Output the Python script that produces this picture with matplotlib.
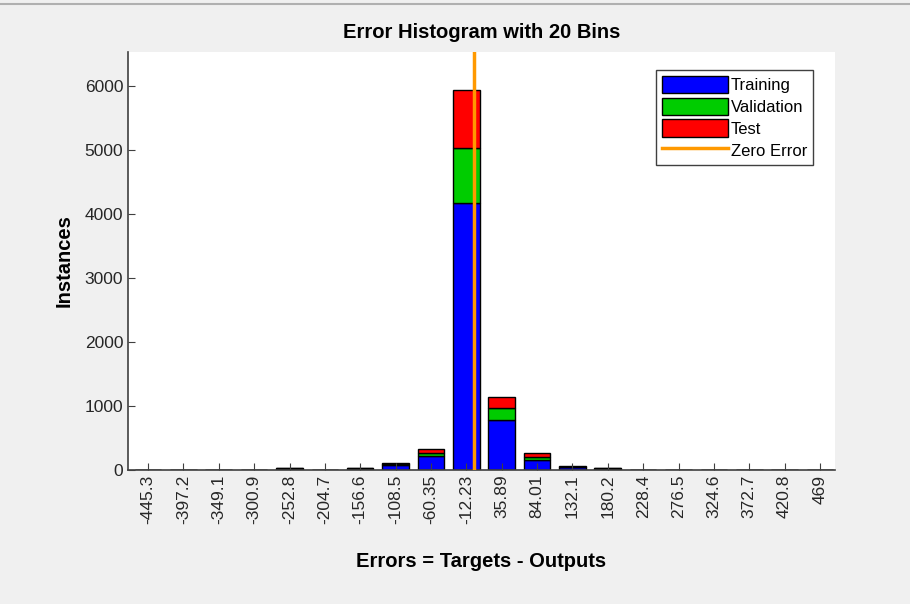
import matplotlib
matplotlib.use("Agg")
import matplotlib.pyplot as plt
import numpy as np

plt.rcParams['font.family'] = ['Liberation Sans', 'DejaVu Sans']

tick_labels = ["-445.3", "-397.2", "-349.1", "-300.9", "-252.8", "-204.7", "-156.6",
               "-108.5", "-60.35", "-12.23", "35.89", "84.01", "132.1", "180.2",
               "228.4", "276.5", "324.6", "372.7", "420.8", "469"]
bin_centers = [float(t) for t in tick_labels]
training   = [0, 0, 0, 0, 20, 0, 20, 80, 220, 4165, 781, 158, 45, 20, 0, 0, 0, 0, 0, 0]
validation = [0, 0, 0, 0, 4, 0, 4, 12, 50, 862, 183, 42, 8, 5, 0, 0, 0, 0, 0, 0]
test       = [0, 0, 0, 0, 3, 0, 3, 13, 53, 910, 181, 58, 9, 5, 0, 0, 0, 0, 0, 0]

fig = plt.figure(figsize=(9.10, 6.04), dpi=100, facecolor='#f0f0f0')
ax = fig.add_axes([0.1407, 0.2219, 0.9176 - 0.1407, 0.9139 - 0.2219])
ax.set_facecolor('white')

x = np.array(bin_centers)
tr = np.array(training); va = np.array(validation); te = np.array(test)
bw = 48.12 * 0.75
h1 = ax.bar(x, tr, width=bw, color='#0000ff', edgecolor='black', linewidth=1, label='Training')
h2 = ax.bar(x, va, width=bw, bottom=tr, color='#00cc00', edgecolor='black', linewidth=1, label='Validation')
h3 = ax.bar(x, te, width=bw, bottom=tr + va, color='#ff0000', edgecolor='black', linewidth=1, label='Test')
h4 = ax.axvline(-2, color='#ff9900', linewidth=2.5, label='Zero Error', zorder=5)

ax.set_xlim(-472.5, 489.4)
ax.set_ylim(0, 6530)
ax.set_xticks(x)
ax.set_xticklabels(tick_labels, rotation=90, fontsize=12.5, color='#262626')
ax.set_yticks([0, 1000, 2000, 3000, 4000, 5000, 6000])
ax.tick_params(axis='y', labelsize=12.5, labelcolor='#262626')
ax.tick_params(direction='in', length=5, color='#404040')
for s in ['top', 'right']:
    ax.spines[s].set_visible(False)
for s in ['left', 'bottom']:
    ax.spines[s].set_color('#404040')
    ax.spines[s].set_linewidth(1.2)

ax.set_title('Error Histogram with 20 Bins', fontsize=14.5, fontweight='bold', pad=10)
ax.set_xlabel('Errors = Targets - Outputs', fontsize=14.5, fontweight='bold', labelpad=20)
ax.set_ylabel('Instances', fontsize=14.5, fontweight='bold', labelpad=8)

leg = ax.legend(handles=[h1, h2, h3, h4], loc='upper right', bbox_to_anchor=(0.969, 0.957),
                fontsize=12, handlelength=4.0, handleheight=1.25, handletextpad=0.15,
                labelspacing=0.25, borderpad=0.35, borderaxespad=0,
                fancybox=False, framealpha=1, edgecolor='#404040')
leg.get_frame().set_linewidth(1)

fig.add_artist(plt.Line2D([0, 1], [0.993, 0.993], color='#b0b0b0', linewidth=1.5,
                          transform=fig.transFigure))

fig.savefig('out.png', dpi=100, facecolor=fig.get_facecolor())
